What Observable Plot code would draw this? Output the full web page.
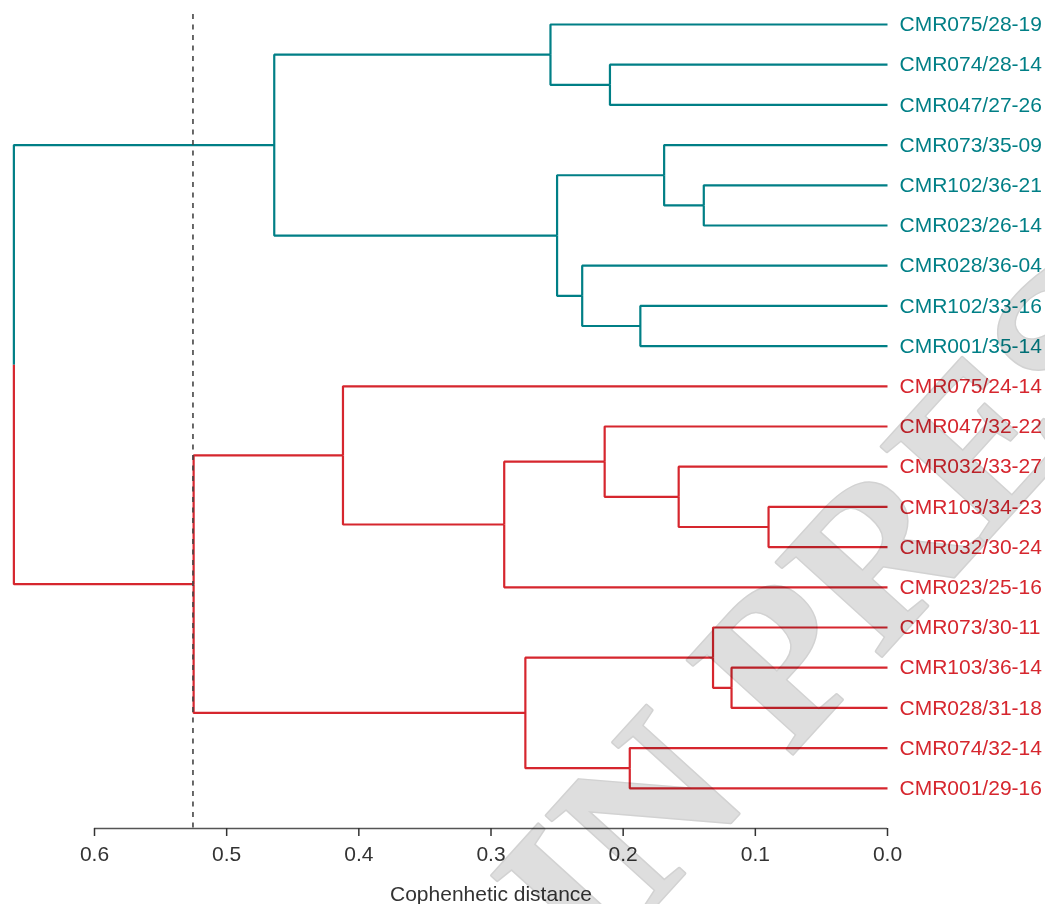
<!DOCTYPE html>
<html>
<head>
<meta charset="utf-8">
<script src="https://cdn.jsdelivr.net/npm/d3@7"></script>
<script src="https://cdn.jsdelivr.net/npm/@observablehq/plot@0.6"></script>
<style>
  html, body { margin: 0; padding: 0; background: #fff; }
</style>
</head>
<body>
<div id="chart"></div>
<script>
// ---- data ----
const leaves = [
  "CMR075/28-19", "CMR074/28-14", "CMR047/27-26", "CMR073/35-09", "CMR102/36-21",
  "CMR023/26-14", "CMR028/36-04", "CMR102/33-16", "CMR001/35-14", "CMR075/24-14",
  "CMR047/32-22", "CMR032/33-27", "CMR103/34-23", "CMR032/30-24", "CMR023/25-16",
  "CMR073/30-11", "CMR103/36-14", "CMR028/31-18", "CMR074/32-14", "CMR001/29-16"
];
const leafGroup = [0,0,0,0,0,0,0,0,0,1,1,1,1,1,1,1,1,1,1,1];
const groupColors = ["#007f86", "#d6262e"];
// linkage: [child a, child b, cophenetic height]; new node ids continue after the leaves
const linkage = [
  [12, 13, 0.090],
  [11, 20, 0.158],
  [10, 21, 0.214],
  [16, 17, 0.118],
  [15, 23, 0.132],
  [4, 5, 0.139],
  [3, 25, 0.169],
  [7, 8, 0.187],
  [18, 19, 0.195],
  [1, 2, 0.210],
  [6, 27, 0.231],
  [26, 30, 0.250],
  [0, 29, 0.255],
  [24, 28, 0.274],
  [22, 14, 0.290],
  [9, 34, 0.412],
  [32, 31, 0.464],
  [35, 33, 0.525],
  [36, 37, 0.661]
];
const cutHeight = 0.5255;
const xTicks = [0.6, 0.5, 0.4, 0.3, 0.2, 0.1, 0.0];
const axisTitle = "Cophenhetic distance";
const watermark = "IN PRESS";

// ---- dendrogram layout (node heights from linkage, node rows = mean of children) ----
const n = leaves.length;
const nodeX = leaves.map(() => 0);
const nodeY = leaves.map((_, i) => i);
const nodeG = leafGroup.slice();
const links = [];
linkage.forEach(([a, b, h]) => {
  const id = nodeX.length;
  nodeX.push(h);
  nodeY.push((nodeY[a] + nodeY[b]) / 2);
  nodeG.push(nodeG[a] === nodeG[b] ? nodeG[a] : -1);
  for (const c of [a, b]) {
    links.push({x1: h, y1: nodeY[id], x2: nodeX[c], y2: nodeY[c], g: nodeG[c]});
  }
});
const leafData = leaves.map((name, i) => ({name, row: i, g: leafGroup[i]}));

const chart = Plot.plot({
  width: 1045,
  height: 904,
  marginLeft: 94,
  marginRight: 158,
  marginTop: 24,
  marginBottom: 76,
  style: {
    fontFamily: "'Liberation Sans', Arial, Helvetica, sans-serif",
    fontSize: "21px",
    background: "#fff",
    overflow: "visible"
  },
  x: {domain: [0.6, 0]},
  y: {domain: [0, n], reverse: true, axis: null},
  color: {type: "ordinal", domain: [0, 1], range: groupColors},
  marks: [
    Plot.link(links, {
      x1: "x1", y1: "y1", x2: "x2", y2: "y2",
      stroke: "g", curve: "step-before",
      strokeWidth: 2.2, strokeLinejoin: "miter"
    }),
    Plot.ruleY([n], {x1: 0.6, x2: 0, stroke: "#555", strokeWidth: 1.5}),
    Plot.axisX({
      anchor: "bottom",
      ticks: xTicks,
      tickFormat: d3.format(".1f"),
      tickSize: 8,
      tickPadding: 10,
      strokeWidth: 1.5,
      color: "#333",
      fontSize: 21,
      label: axisTitle,
      labelAnchor: "center",
      labelOffset: 72,
      labelArrow: "none"
    }),
    Plot.text(leafData, {
      x: () => 0, y: "row", text: "name", fill: "g",
      dx: 12, textAnchor: "start", fontSize: 21
    }),
    Plot.ruleX([cutHeight], {
      y1: -0.25, y2: n, stroke: "#444", strokeWidth: 1.6, strokeDasharray: "5,5.5"
    })
  ]
});

document.getElementById("chart").appendChild(chart);

// faint diagonal watermark overlay, placed so its "P" and "E" sit where they are in the source image
const pTarget = [780, 660], eTarget = [978, 442];
const wm = d3.select(chart).append("text")
  .attr("font-family", "'Liberation Serif', 'Times New Roman', serif")
  .attr("font-weight", "bold")
  .attr("font-size", 200)
  .attr("fill", "#dedede")
  .attr("stroke", "#d2d2d2")
  .attr("stroke-width", 3)
  .attr("stroke-linejoin", "round")
  .attr("paint-order", "stroke")
  .attr("pointer-events", "none")
  .style("mix-blend-mode", "multiply")
  .text(watermark);
function charCenter(node, i) {
  const b = node.getExtentOfChar(i);
  return [b.x + b.width / 2, b.y + b.height / 2];
}
try {
  const node = wm.node();
  const iP = watermark.indexOf("P"), iE = watermark.indexOf("E");
  let cP = charCenter(node, iP), cE = charCenter(node, iE);
  const want = Math.hypot(eTarget[0] - pTarget[0], eTarget[1] - pTarget[1]);
  const have = Math.hypot(cE[0] - cP[0], cE[1] - cP[1]);
  const fs = 200 * want / have;
  wm.attr("font-size", fs);
  cP = charCenter(node, iP);
  const ang = Math.atan2(eTarget[1] - pTarget[1], eTarget[0] - pTarget[0]);
  const c = Math.cos(ang), s = Math.sin(ang);
  const tx = pTarget[0] - (c * cP[0] - s * cP[1]);
  const ty = pTarget[1] - (s * cP[0] + c * cP[1]);
  wm.attr("transform", `translate(${tx},${ty}) rotate(${ang * 180 / Math.PI})`);
} catch (e) {
  wm.attr("font-size", 215).attr("transform", "translate(600,960) rotate(-47.7)");
}
</script>
</body>
</html>
